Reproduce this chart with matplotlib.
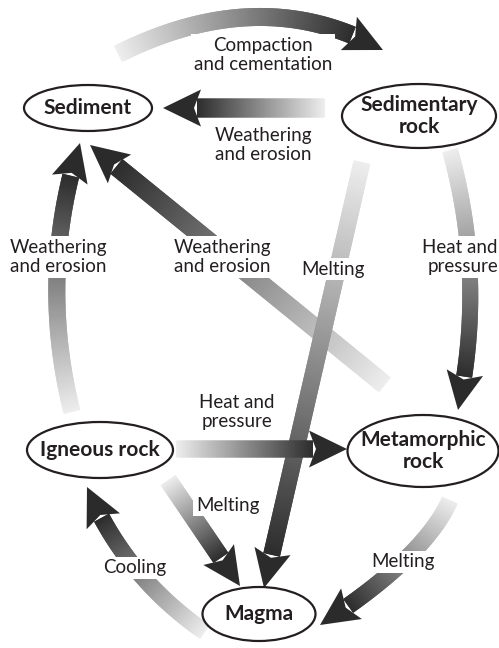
import numpy as np
import matplotlib
matplotlib.use("Agg")
import matplotlib.pyplot as plt
from matplotlib.patches import Ellipse, Polygon
from matplotlib.collections import PolyCollection

plt.rcParams['font.family'] = ['Lato', 'DejaVu Sans']

# nodes of the rock cycle (pixel layout, y grows downward)
node_names = ['Sediment', 'Sedimentary\nrock', 'Igneous rock', 'Metamorphic\nrock', 'Magma']
node_x = [88, 419, 100, 423, 259]
node_y = [108, 116, 450, 451, 614]
node_w = [128, 154, 146, 151, 113]
node_h = [46, 64, 56, 72, 54]

# processes: label, label position, path (start, control, tip)
proc_labels = ['Compaction\nand cementation', 'Weathering\nand erosion', 'Melting',
               'Heat and\npressure', 'Weathering\nand erosion', 'Weathering\nand erosion',
               'Heat and\npressure', 'Melting', 'Cooling', 'Melting']
label_x = [263, 263, 333, 498, 58, 222, 237, 228, 135, 403]
label_y = [55, 145, 269, 257, 257, 257, 412, 505, 568, 562]
label_ha = ['center'] * 3 + ['right'] + ['center'] * 6
path_start = [(118, 54), (325, 108), (362, 162), (450, 150), (72, 412),
              (385, 385), (176, 449), (168, 480), (205, 632), (450, 500)]
path_ctrl = [(262, -18), (244, 108), (313, 375), (486, 280), (38, 276),
             (238, 265), (262, 449), (204, 533), (124, 576), (425, 557)]
path_tip = [(383, 50), (163, 108), (264, 588), (458, 410), (80, 143),
            (90, 145), (347, 449), (240, 586), (87, 487), (320, 625)]
shaft_w = [18, 19, 17, 16, 17, 19, 17, 18, 17, 17]
draw_order = [0, 1, 5, 2, 3, 4, 6, 7, 8, 9]


def bezier(p0, c, p2, n=120):
    t = np.linspace(0, 1, n)[:, None]
    p0, c, p2 = np.array(p0, float), np.array(c, float), np.array(p2, float)
    return (1 - t) ** 2 * p0 + 2 * (1 - t) * t * c + t ** 2 * p2


def grad_arrow(ax, pts, width, z, head_len=34, head_w=37, g0=0.93, g1=0.17):
    d = np.hypot(*np.diff(pts, axis=0).T)
    s = np.concatenate([[0], np.cumsum(d)])
    L = s[-1]
    sb = L - head_len
    base = np.array([np.interp(sb, s, pts[:, 0]), np.interp(sb, s, pts[:, 1])])
    keep = s < sb - 1
    shaft = np.vstack([pts[keep], base])
    ss = np.concatenate([s[keep], [sb]])
    tan = np.gradient(shaft, axis=0)
    tan /= np.hypot(tan[:, 0], tan[:, 1])[:, None]
    nrm = np.column_stack([-tan[:, 1], tan[:, 0]])
    left = shaft + nrm * width / 2
    right = shaft - nrm * width / 2
    n = len(shaft)
    # each quad reaches two steps ahead so neighbours overlap and no seams show
    quads = [[left[i], left[min(i + 2, n - 1)], right[min(i + 2, n - 1)], right[i]]
             for i in range(n - 1)]
    frac = np.clip(ss[:-1] / sb, 0, 1)
    g = g0 + (g1 - g0) * frac
    cols = [(v, v, v) for v in g]
    pc = PolyCollection(quads, facecolors=cols, edgecolors='none', linewidths=0, zorder=z)
    pc.set_snap(False)
    ax.add_collection(pc)
    tip = pts[-1]
    u = (tip - base) / np.hypot(*(tip - base))
    nn = np.array([-u[1], u[0]])
    head = [base + nn * head_w / 2 - u * 4, tip, base - nn * head_w / 2 - u * 4, base + u * 3]
    ax.add_patch(Polygon(head, closed=True, fc=(g1, g1, g1), ec='none', zorder=z, snap=False))


fig = plt.figure(figsize=(4.99, 6.48), dpi=100)
ax = fig.add_axes([0, 0, 1, 1])
ax.set_xlim(0, 499)
ax.set_ylim(648, 0)
ax.axis('off')

for k, i in enumerate(draw_order):
    pts = bezier(path_start[i], path_ctrl[i], path_tip[i])
    grad_arrow(ax, pts, shaft_w[i], z=2 + k)

for i, lab in enumerate(proc_labels):
    ax.text(label_x[i], label_y[i], lab, ha=label_ha[i], va='center', fontsize=13.5,
            linespacing=1.2, color='#231f20', zorder=20,
            bbox=dict(fc='white', ec='none', pad=2))

for name, x, y, w, h in zip(node_names, node_x, node_y, node_w, node_h):
    ax.add_patch(Ellipse((x, y), w, h, fc='white', ec='#231f20', lw=1.6, zorder=30))
    ax.text(x, y, name, ha='center', va='center', fontsize=15, fontweight='bold',
            linespacing=1.1, color='#231f20', zorder=31)

fig.savefig('out.png', dpi=100)
